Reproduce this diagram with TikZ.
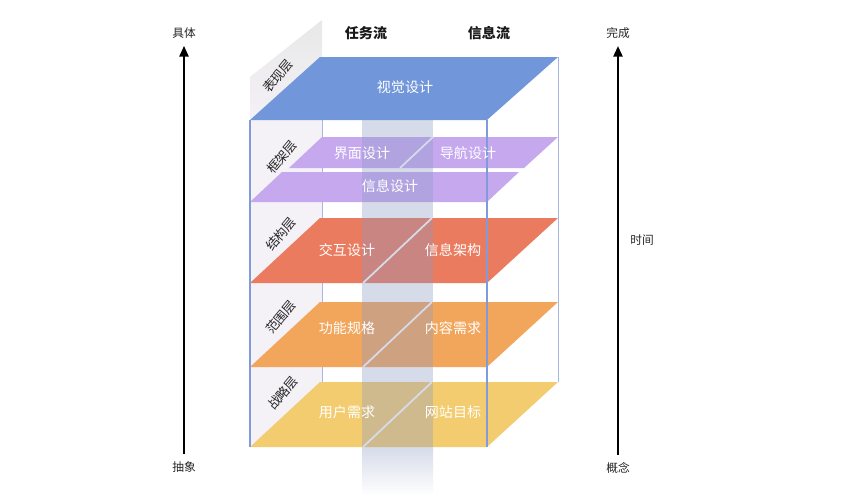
\documentclass[tikz,border=0pt]{standalone}
\usepackage{fontspec}
\setmainfont{Noto Sans CJK SC}
\usetikzlibrary{arrows.meta}

\definecolor{surfacecol}{HTML}{7296DA}
\definecolor{skeletoncol}{HTML}{C5A8EE}
\definecolor{structurecol}{HTML}{EA7B5E}
\definecolor{scopecol}{HTML}{F2A65C}
\definecolor{strategycol}{HTML}{F2CC6E}
\definecolor{edgecol}{HTML}{7F9BD9}
\definecolor{stripcol}{HTML}{8C9AC4}
\definecolor{wallcol}{HTML}{F4F1F7}

\begin{document}
\begin{tikzpicture}[x=0.03cm,y=-0.03cm,
    item/.style={text=white,font=\fontsize{12}{14}\selectfont},
    walllabel/.style={rotate=50,inner sep=0pt,font=\fontsize{11}{13}\selectfont,text=black!85},
    axislabel/.style={font=\fontsize{10}{12}\selectfont,text=black!85},
    flowlabel/.style={font=\fontsize{12}{14}\selectfont\bfseries,text=black!90},
    axisarrow/.style={line width=1.2pt,-{Triangle[width=8pt,length=9pt]}},
    boxedge/.style={edgecol,line width=1.2pt}]
  \useasboundingbox (0,0) rectangle (842,499);
  \fill[white] (0,0) rectangle (842,499);

  % left wall of the box
  \shade[top color=gray!18,bottom color=wallcol] (250,77) -- (322,20) -- (322,120) -- (250,120) -- cycle;
  \fill[wallcol] (250,120) -- (322,120) -- (322,384) -- (250,447) -- cycle;

  % back edges
  \draw[edgecol!70,line width=0.8pt] (322,120) -- (322,382);
  \draw[edgecol!70,line width=0.8pt] (558,57) -- (558,382);

  % skeleton layer, two rows
  \fill[skeletoncol] (289,168) -- (524,168) -- (558,137) -- (322,137) -- cycle;
  \draw[white,line width=1.5pt] (400,168) -- (433,137);
  \fill[skeletoncol] (250,202) -- (487,202) -- (519,172) -- (282,172) -- cycle;

  % structure, scope and strategy layers
  \foreach \t/\c in {218/structurecol, 302/scopecol, 382/strategycol} {
      \fill[\c] (250,{\t+65}) -- (487,{\t+65}) -- (558,\t) -- (320,\t) -- cycle;
      \draw[white,line width=1.5pt] (363,{\t+65}) -- (432,\t);
  }

  % middle strip
  \fill[stripcol,opacity=0.35] (362,120) rectangle (433,447);
  \shade[top color=stripcol,bottom color=white,opacity=0.35] (362,447) rectangle (433,495);

  % front edges
  \draw[boxedge] (250,120) -- (250,447);
  \draw[boxedge] (487,120) -- (487,447);

  % surface layer on top
  \fill[surfacecol] (250,120) -- (487,120) -- (558,57) -- (320,57) -- cycle;

  % flow headers
  \node[flowlabel] (taskflow) at (366,33) {任务流};
  \node[flowlabel] (infoflow) at (489,33) {信息流};

  % layer names on the wall
  \node[walllabel] (surface) at (278,76) {表现层};
  \node[walllabel] (skeleton) at (282,157) {框架层};
  \node[walllabel] (structure) at (281,234) {结构层};
  \node[walllabel] (scope) at (281,317) {范围层};
  \node[walllabel] (strategy) at (283,393) {战略层};

  % items in the layers
  \node[item] (visual) at (405,87) {视觉设计};
  \node[item] (interface) at (362,153) {界面设计};
  \node[item] (navigation) at (468,153) {导航设计};
  \node[item] (infodesign) at (390,186) {信息设计};
  \node[item] (interaction) at (347,250) {交互设计};
  \node[item] (infoarch) at (453,250) {信息架构};
  \node[item] (functional) at (347,328) {功能规格};
  \node[item] (content) at (453,328) {内容需求};
  \node[item] (userneeds) at (347,412) {用户需求};
  \node[item] (sitegoals) at (453,412) {网站目标};

  % axes
  \node[axislabel] (concrete) at (184,33) {具体};
  \node[axislabel] (abstract) at (184,467) {抽象};
  \node[axislabel] (complete) at (618,33) {完成};
  \node[axislabel] (concept) at (618,468) {概念};
  \node[axislabel] (time) at (642,240) {时间};
  \draw[axisarrow,shorten <=3pt,shorten >=3pt] (abstract.north) -- (concrete.south);
  \draw[axisarrow,shorten <=3pt,shorten >=3pt] (concept.north) -- (complete.south);
\end{tikzpicture}
\end{document}
